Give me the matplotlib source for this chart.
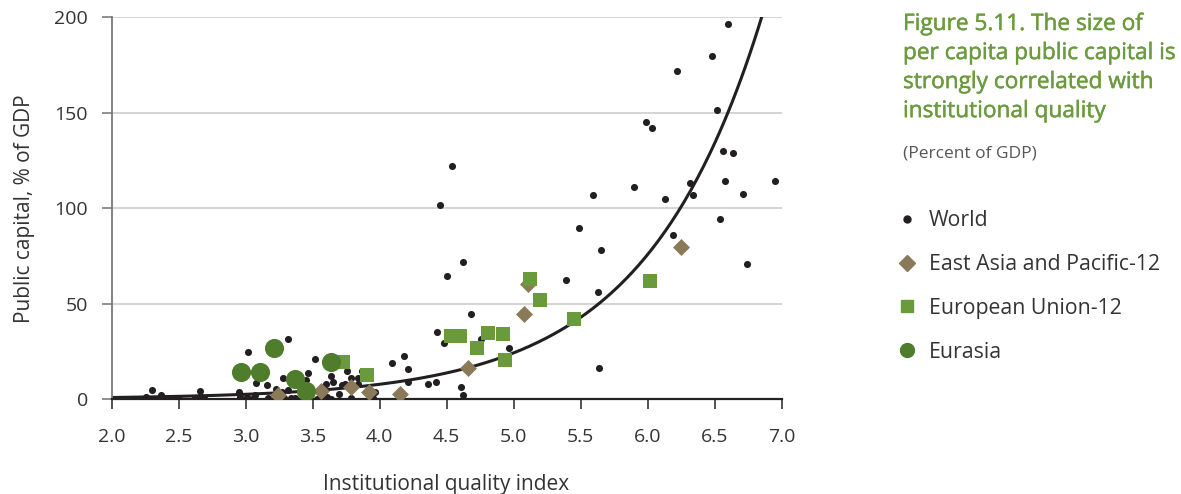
import numpy as np
import matplotlib
matplotlib.use("Agg")
import matplotlib.pyplot as plt
import matplotlib.patheffects as pe
from matplotlib.lines import Line2D

plt.rcParams['font.family'] = ['Open Sans', 'DejaVu Sans']

# ---- data ----
world_x = [2.27, 2.30, 2.26, 2.37, 2.39, 2.42, 2.48, 2.50, 2.62, 2.66, 2.66, 2.69,
           2.95, 2.96, 3.01, 3.02, 3.05, 3.07, 3.08, 3.16, 3.17, 3.23, 3.27, 3.28,
           3.29, 3.32, 3.32, 3.34, 3.37, 3.45, 3.47, 3.52, 3.53, 3.56, 3.60, 3.61,
           3.64, 3.64, 3.65, 3.70, 3.72, 3.74, 3.76, 3.79, 3.79, 3.84, 3.84, 3.87,
           3.95, 3.97, 4.09, 4.18, 4.21, 4.21, 4.36, 4.42, 4.43, 4.45, 4.48, 4.50,
           4.54, 4.61, 4.62, 4.62, 4.68, 4.76, 4.97, 5.39, 5.49, 5.59, 5.63, 5.64,
           5.65, 5.90, 5.99, 6.03, 6.13, 6.19, 6.22, 6.32, 6.34, 6.48, 6.52, 6.54,
           6.56, 6.58, 6.60, 6.64, 6.71, 6.74, 6.95]
world_y = [0.0, 4.7, 1.2, 1.9, 0.0, 0.5, 0.7, 0.2, 0.4, 4.4, 1.2, 0.5,
           3.8, 1.2, 1.2, 24.8, 0.0, 2.1, 8.4, 7.5, 0.5, 5.2, 3.5, 10.9,
           0.3, 31.3, 4.9, 0.4, 0.4, 9.8, 13.8, 20.8, 0.0, 0.3, 8.0, 0.9,
           12.2, 0.0, 8.7, 2.4, 7.2, 8.0, 14.7, 10.8, 0.5, 10.8, 8.0, 14.9,
           0.7, 3.7, 19.0, 22.4, 15.7, 9.1, 8.0, 8.7, 35.0, 101.6, 29.4, 64.7,
           122.4, 6.5, 2.1, 72.0, 44.6, 31.5, 26.7, 62.2, 89.8, 107.0, 56.1, 16.4,
           78.1, 111.3, 145.3, 142.0, 105.0, 86.2, 172.0, 113.1, 106.8, 179.9, 151.5, 94.6,
           130.2, 114.2, 196.5, 129.2, 107.5, 70.6, 114.5]

eap_x = [3.24, 3.56, 3.79, 3.92, 4.15, 4.66, 5.08, 5.11, 6.25]
eap_y = [1.9, 4.2, 6.1, 3.8, 2.4, 16.4, 44.7, 60.3, 79.9]

eu_x = [3.73, 3.91, 4.53, 4.60, 4.73, 4.81, 4.92, 4.94, 5.12, 5.20, 5.45, 6.02]
eu_y = [19.6, 12.8, 33.0, 33.0, 26.9, 34.8, 34.3, 20.6, 63.1, 52.1, 42.0, 62.0]

eurasia_x = [2.97, 3.11, 3.21, 3.37, 3.45, 3.64]
eurasia_y = [14.0, 14.0, 26.6, 10.3, 4.2, 19.2]

# exponential trend line y = a * exp(b * x)
trend_a = 0.080
trend_b = 1.142
trend_range = [2.0, 6.86]

x_ticks = [2.0, 2.5, 3.0, 3.5, 4.0, 4.5, 5.0, 5.5, 6.0, 6.5, 7.0]
y_ticks = [0, 50, 100, 150, 200]

title_lines = "Figure 5.11. The size of\nper capita public capital is\nstrongly correlated with\ninstitutional quality"
subtitle = "(Percent of GDP)"
labels = ["World", "East Asia and Pacific-12", "European Union-12", "Eurasia"]

# ---- colours ----
c_world = "#231f20"
c_eap = "#8a7a5a"
c_eu = "#6b9a3c"
c_eurasia = "#4f7d2c"
c_title = "#6c9b3e"
c_text = "#333333"

fig = plt.figure(figsize=(11.81, 4.94), dpi=100)
ax = fig.add_axes([111.5 / 1181, 1 - 399 / 494, 670 / 1181, 381.5 / 494])

for v in [50, 100, 150, 200]:
    ax.axhline(v, color="#d4d4d4", lw=1.4, zorder=0)

xs = np.linspace(trend_range[0], trend_range[1], 300)
ax.plot(xs, trend_a * np.exp(trend_b * xs), color=c_world, lw=2.2, zorder=2)

ax.scatter(world_x, world_y, s=26, color=c_world, zorder=3, linewidths=0)
ax.scatter(eap_x, eap_y, s=75, marker="D", color=c_eap, zorder=4, linewidths=0)
ax.scatter(eu_x, eu_y, s=110, marker="s", color=c_eu, zorder=5, linewidths=0)
ax.scatter(eurasia_x, eurasia_y, s=190, marker="o", color=c_eurasia, zorder=5, linewidths=0)

ax.set_xlim(2.0, 7.0)
ax.set_ylim(0, 200)
ax.set_xticks(x_ticks)
ax.set_xticklabels([f"{t:.1f}" for t in x_ticks])
ax.set_yticks(y_ticks)
ax.set_yticklabels([str(t) for t in y_ticks])
ax.tick_params(axis="x", direction="out", length=7, width=1.3, color="#444444",
               labelsize=14, labelcolor=c_text, pad=14)
ax.tick_params(axis="y", direction="out", length=7, width=1.3, color="#888888",
               labelsize=14, labelcolor=c_text, pad=10)
for s in ["top", "right"]:
    ax.spines[s].set_visible(False)
ax.spines["left"].set_color("#777777")
ax.spines["left"].set_linewidth(1.3)
ax.spines["bottom"].set_color("#222222")
ax.spines["bottom"].set_linewidth(1.6)

ax.set_xlabel("Institutional quality index", fontsize=15, color=c_text, labelpad=20)
ax.set_ylabel("Public capital, % of GDP", fontsize=15, color=c_text, labelpad=14)

fig.text(903 / 1181, 1 - 12 / 494, title_lines, fontsize=16.3, color=c_title,
         va="top", ha="left", linespacing=1.28,
         path_effects=[pe.withStroke(linewidth=0.35, foreground=c_title)])
fig.text(903 / 1181, 1 - 153 / 494, subtitle, fontsize=12.5, color="#555555",
         va="center", ha="left")

handles = [
    Line2D([], [], ls="none", marker="o", ms=5, color=c_world),
    Line2D([], [], ls="none", marker="D", ms=8, color=c_eap),
    Line2D([], [], ls="none", marker="s", ms=9, color=c_eu),
    Line2D([], [], ls="none", marker="o", ms=10, color=c_eurasia),
]
fig.legend(handles, labels, loc="upper left", bbox_to_anchor=(898 / 1181, 1 - 210 / 494),
           frameon=False, fontsize=15.3, labelcolor=c_text, handlelength=0.8,
           handletextpad=0.65, labelspacing=1.08, borderaxespad=0, borderpad=0)

fig.savefig("out.png", dpi=100)
